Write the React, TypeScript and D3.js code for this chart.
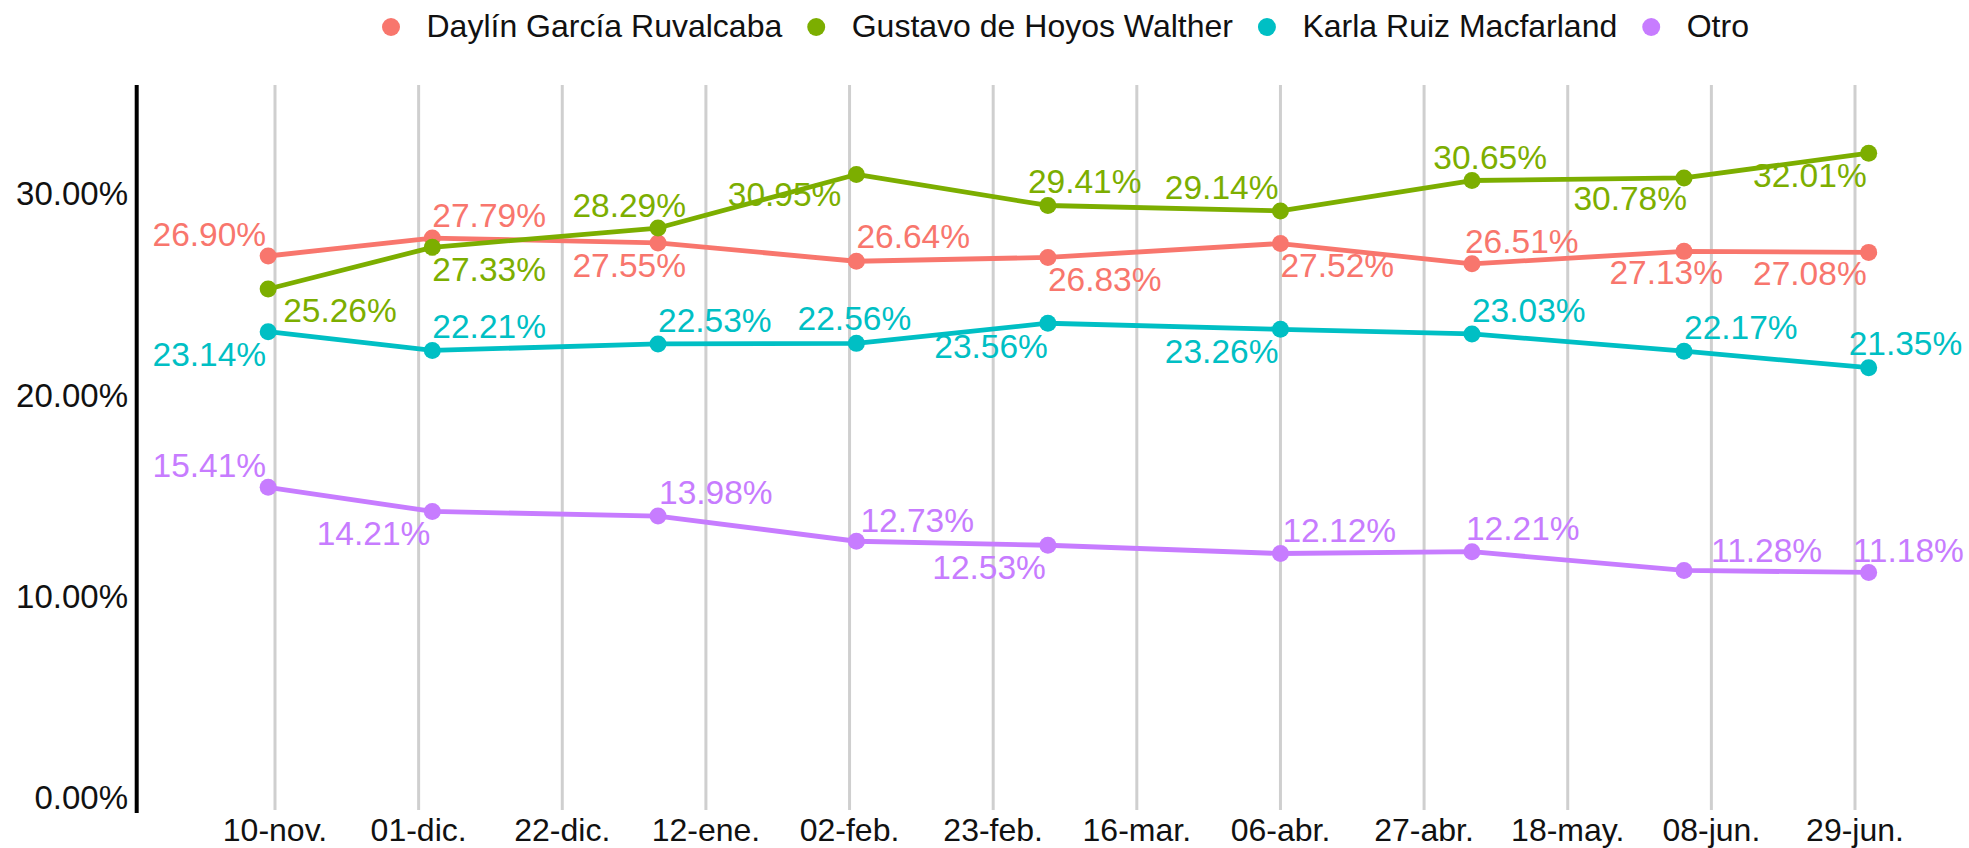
import React, { useEffect, useRef } from "react";
import * as d3 from "d3";

const W = 1969;
const H = 848;

const SERIES = ["Daylín García Ruvalcaba", "Gustavo de Hoyos Walther", "Karla Ruiz Macfarland", "Otro"];
const COLORS = ["#F8766D", "#7CAE00", "#00BFC4", "#C77CFF"];

const DATES = ["2020-11-09", "2020-12-03", "2021-01-05", "2021-02-03", "2021-03-03", "2021-04-06", "2021-05-04", "2021-06-04", "2021-07-01"];

const DAYLIN = [26.90, 27.79, 27.55, 26.64, 26.83, 27.52, 26.51, 27.13, 27.08];
const GUSTAVO = [25.26, 27.33, 28.29, 30.95, 29.41, 29.14, 30.65, 30.78, 32.01];
const KARLA = [23.14, 22.21, 22.53, 22.56, 23.56, 23.26, 23.03, 22.17, 21.35];
const OTRO = [15.41, 14.21, 13.98, 12.73, 12.53, 12.12, 12.21, 11.28, 11.18];

const TICK_DATES = ["2020-11-10", "2020-12-01", "2020-12-22", "2021-01-12", "2021-02-02", "2021-02-23", "2021-03-16", "2021-04-06", "2021-04-27", "2021-05-18", "2021-06-08", "2021-06-29"];
const TICK_LABELS = ["10-nov.", "01-dic.", "22-dic.", "12-ene.", "02-feb.", "23-feb.", "16-mar.", "06-abr.", "27-abr.", "18-may.", "08-jun.", "29-jun."];
const Y_TICKS = [0, 10, 20, 30];

// label placement (anchor, dx, dy) per series per point – layout only
type LP = [string, number, number];
const LABEL_LAYOUT: LP[][] = [
  [["end", -2, -10], ["start", 0, -11], ["end", 28, 34], ["start", 0, -13], ["start", 0, 34], ["start", 0, 33], ["start", -7, -11], ["end", 39, 33], ["end", -2, 33]],
  [["start", 15, 33], ["start", 0, 34], ["end", 28, -11], ["end", -15, 32], ["start", -20, -12], ["end", -2, -12], ["end", 75, -12], ["end", 3, 32], ["end", -2, 34]],
  [["end", -2, 34], ["start", 0, -12], ["start", 0, -12], ["middle", -2, -13], ["end", 0, 35], ["end", -2, 34], ["start", 0, -12], ["start", 0, -12], ["start", -20, -13]],
  [["end", -2, -10], ["end", -2, 34], ["start", 1, -12], ["start", 4, -9], ["end", -2, 34], ["start", 2, -12], ["start", -6, -12], ["start", 27, -8], ["start", -16, -10]],
];

const FONT = "'Liberation Sans', Arial, Helvetica, sans-serif";

export default function App() {
  const ref = useRef<SVGSVGElement | null>(null);

  useEffect(() => {
    const svg = d3.select(ref.current);
    svg.selectAll("*").remove();

    const parse = d3.timeParse("%Y-%m-%d");
    const dates = DATES.map((d) => parse(d) as Date);
    const ticks = TICK_DATES.map((d) => parse(d) as Date);
    const values = [DAYLIN, GUSTAVO, KARLA, OTRO];

    const x = d3.scaleTime().domain([ticks[0], ticks[ticks.length - 1]]).range([275, 1855]);
    const y = d3.scaleLinear().domain([0, 30]).range([797.5, 193.6]);

    // vertical gridlines
    svg.append("g")
      .selectAll("line")
      .data(ticks)
      .join("line")
      .attr("x1", (d) => x(d))
      .attr("x2", (d) => x(d))
      .attr("y1", 85)
      .attr("y2", 810)
      .attr("stroke", "#cfcfcf")
      .attr("stroke-width", 3);

    // x tick labels
    svg.append("g")
      .selectAll("text")
      .data(ticks)
      .join("text")
      .attr("x", (d) => x(d))
      .attr("y", 841)
      .attr("text-anchor", "middle")
      .attr("font-family", FONT)
      .attr("font-size", 32)
      .attr("fill", "#111")
      .text((_, i) => TICK_LABELS[i]);

    // y axis line
    svg.append("line")
      .attr("x1", 136.7).attr("x2", 136.7)
      .attr("y1", 85).attr("y2", 813)
      .attr("stroke", "#000").attr("stroke-width", 4);

    // y tick labels
    svg.append("g")
      .selectAll("text")
      .data(Y_TICKS)
      .join("text")
      .attr("x", 128)
      .attr("y", (d) => y(d))
      .attr("dy", "0.36em")
      .attr("text-anchor", "end")
      .attr("font-family", FONT)
      .attr("font-size", 33)
      .attr("fill", "#111")
      .text((d) => d.toFixed(2) + "%");

    const line = d3.line<number>()
      .x((_, i) => x(dates[i]))
      .y((v) => y(v));

    values.forEach((vals, s) => {
      const g = svg.append("g");
      g.append("path")
        .attr("d", line(vals) as string)
        .attr("fill", "none")
        .attr("stroke", COLORS[s])
        .attr("stroke-width", 4.8)
        .attr("stroke-linejoin", "round");
      g.selectAll("circle")
        .data(vals)
        .join("circle")
        .attr("cx", (_, i) => x(dates[i]))
        .attr("cy", (v) => y(v))
        .attr("r", 8.5)
        .attr("fill", COLORS[s]);
    });

    values.forEach((vals, s) => {
      svg.append("g")
        .selectAll("text")
        .data(vals)
        .join("text")
        .attr("x", (_, i) => x(dates[i]) + LABEL_LAYOUT[s][i][1])
        .attr("y", (v, i) => y(v) + LABEL_LAYOUT[s][i][2])
        .attr("text-anchor", (_, i) => LABEL_LAYOUT[s][i][0])
        .attr("font-family", FONT)
        .attr("font-size", 33.5)
        .attr("fill", COLORS[s])
        .text((v) => v.toFixed(2) + "%");
    });

    // legend
    const lg = svg.append("g");
    let cx = 391;
    SERIES.forEach((name, s) => {
      lg.append("circle").attr("cx", cx).attr("cy", 27).attr("r", 9).attr("fill", COLORS[s]);
      const t = lg.append("text")
        .attr("x", cx + 35.5)
        .attr("y", 37)
        .attr("font-family", FONT)
        .attr("font-size", 32)
        .attr("fill", "#111")
        .text(name);
      const w = (t.node() as SVGTextElement).getComputedTextLength();
      cx = cx + 35.5 + w + 34;
    });
  }, []);

  return (
    <svg
      ref={ref}
      width={W}
      height={H}
      style={{ position: "absolute", left: 0, top: 0, background: "#fff" }}
    />
  );
}
